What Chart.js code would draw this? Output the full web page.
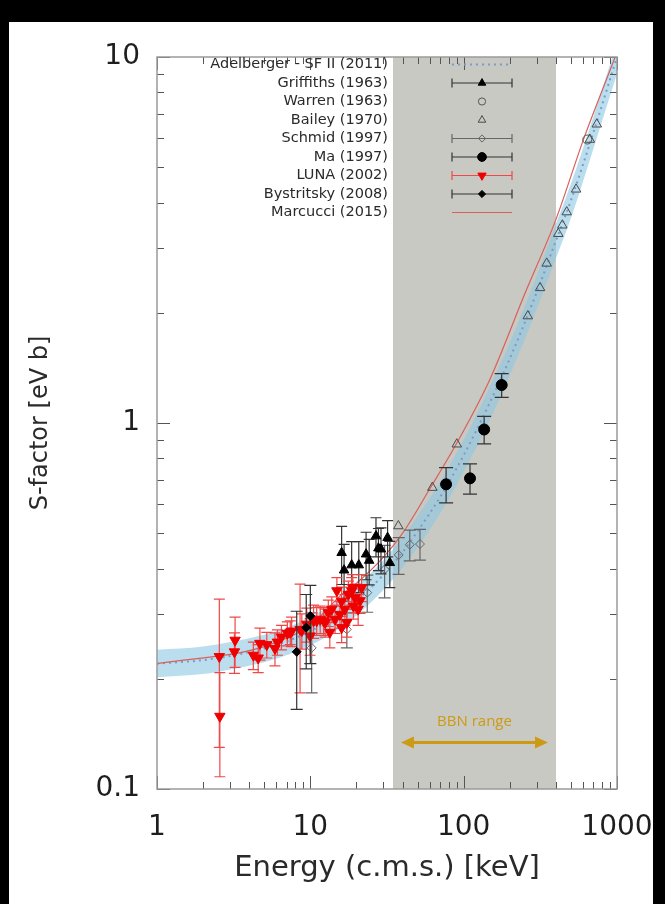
<!DOCTYPE html>
<html>
<head>
<meta charset="utf-8">
<script src="https://cdn.jsdelivr.net/npm/chart.js@4.4.1/dist/chart.umd.min.js"></script>
<style>
  html, body { margin: 0; padding: 0; background: #000; }
  canvas { display: block; }
</style>
</head>
<body>
<canvas id="sfactor" width="665" height="904"></canvas>
<script>
/* ------------------
  axis ticks
-------------------*/
var xTickVals = [1, 10, 100, 1000];
var xTickLabels = ['1', '10', '100', '1000'];
var yTickVals = [0.1, 1, 10];
var yTickLabels = ['0.1', '1', '10'];

// BBN energy window [keV] and where its arrow sits
var bbnRange = [34.6, 400];
var bbnArrow = [39, 355];
var bbnArrowS = 0.134;
var bbnTextS = 0.153;

/* ------------------
  Adelberger SF II (2011) fit + band
-------------------*/
var sfE   = [1, 2, 3, 5, 7, 10, 15, 20, 30, 40, 50, 70, 100, 150, 200, 300, 400, 500, 700, 1000];
var sfMid = [0.220, 0.225, 0.231, 0.242, 0.253, 0.270, 0.298, 0.327, 0.385, 0.444, 0.506, 0.626, 0.816, 1.15, 1.50, 2.28, 3.15, 4.05, 6.2, 10.0];
var sfHi  = [0.240, 0.245, 0.252, 0.264, 0.276, 0.295, 0.326, 0.358, 0.422, 0.488, 0.557, 0.690, 0.90, 1.27, 1.66, 2.53, 3.50, 4.50, 6.85, 11.0];
var sfLo  = [0.202, 0.206, 0.212, 0.222, 0.232, 0.247, 0.272, 0.298, 0.350, 0.402, 0.457, 0.564, 0.735, 1.03, 1.35, 2.05, 2.82, 3.62, 5.6, 9.0];

// Marcucci (2015)
var marE = [1, 5, 10, 16, 20, 30, 40, 60, 90, 150, 250, 400, 600, 800, 1000];
var marS = [0.22, 0.245, 0.28, 0.34, 0.365, 0.43, 0.50, 0.66, 0.88, 1.33, 2.25, 3.6, 5.9, 8.1, 10.3];

/* ------------------
  measurements
-------------------*/
var griE   = [16.0, 16.6, 18.6, 20.7, 23.1, 24.2, 26.8, 27.8, 28.9, 31.9, 33.0];
var griS   = [0.442, 0.396, 0.409, 0.409, 0.438, 0.421, 0.491, 0.455, 0.452, 0.486, 0.415];
var griErr = [0.08, 0.07, 0.065, 0.065, 0.065, 0.06, 0.06, 0.06, 0.065, 0.055, 0.06];

var warE = [640];
var warS = [5.95];

var baiE = [37.5, 62.5, 90.2, 262, 315, 348, 414, 440, 470, 541, 665, 738];
var baiS = [0.523, 0.666, 0.875, 1.96, 2.34, 2.73, 3.29, 3.47, 3.77, 4.35, 5.95, 6.55];

var schE   = [10.2, 17.3, 23.5, 30.5, 37.7, 44.5, 51.9];
var schS   = [0.243, 0.273, 0.344, 0.398, 0.436, 0.465, 0.467];
var schErr = [0.06, 0.03, 0.04, 0.065, 0.05, 0.045, 0.045];

var maE   = [76.8, 110, 136, 177];
var maS   = [0.68, 0.706, 0.96, 1.27];
var maErr = [0.075, 0.067, 0.083, 0.095];

var lunaE   = [2.55, 2.57, 3.20, 3.23, 4.25, 4.57, 4.69, 5.20, 5.88, 6.10, 6.48, 7.08, 7.40, 7.55, 8.57, 8.80, 9.47, 9.96,
               10.5, 11.0, 11.6, 12.2, 12.5, 13.1, 13.4, 13.8, 14.5, 14.9, 15.6, 16.0, 16.0, 16.8, 17.3, 17.7, 18.6, 18.9,
               19.1, 19.6, 20.5, 21.1, 21.6];
var lunaS   = [0.230, 0.158, 0.237, 0.255, 0.232, 0.228, 0.250, 0.248, 0.242, 0.252, 0.260, 0.266, 0.268, 0.270, 0.273, 0.271, 0.282, 0.262,
               0.288, 0.288, 0.291, 0.288, 0.285, 0.303, 0.268, 0.310, 0.291, 0.348, 0.300, 0.326, 0.276, 0.310, 0.285, 0.340, 0.348, 0.355,
               0.316, 0.333, 0.310, 0.327, 0.355];
var lunaErr = [0.10, 0.05, 0.03, 0.04, 0.02, 0.02, 0.025, 0.02, 0.025, 0.02, 0.02, 0.02, 0.02, 0.025, 0.09, 0.03, 0.03, 0.03,
               0.03, 0.025, 0.025, 0.025, 0.025, 0.025, 0.025, 0.025, 0.025, 0.03, 0.025, 0.03, 0.025, 0.03, 0.025, 0.03, 0.03, 0.03,
               0.025, 0.03, 0.03, 0.025, 0.03];

var bysE  = [8.15, 9.4, 10.0];
var bysS  = [0.237, 0.276, 0.297];
var bysLo = [0.165, 0.213, 0.22];
var bysHi = [0.306, 0.34, 0.36];

/************************************************************
    helpers
*************************************************************/
function pts(xs, ys) {
  return xs.map(function (x, i) { return { x: x, y: ys[i] }; });
}
function plus(ys, es) { return ys.map(function (y, i) { return y + es[i]; }); }
function minus(ys, es) { return ys.map(function (y, i) { return y - es[i]; }); }

var FONT = "'DejaVu Sans', Verdana, sans-serif";
Chart.defaults.font.family = FONT;
Chart.defaults.color = '#1e1e1e';

/************************************************************
    plugins
*************************************************************/
// black frame with white sheet
var sheet = {
  id: 'sheet',
  beforeDraw: function (chart) {
    var ctx = chart.ctx;
    ctx.save();
    ctx.fillStyle = '#000';
    ctx.fillRect(0, 0, chart.width, chart.height);
    ctx.fillStyle = '#fff';
    ctx.fillRect(9, 22, 644, chart.height - 22);
    ctx.restore();
  }
};

// grey BBN window, label and double arrow
var bbnBand = {
  id: 'bbnBand',
  beforeDatasetsDraw: function (chart) {
    var ctx = chart.ctx, a = chart.chartArea, x = chart.scales.x, y = chart.scales.y;
    var x0 = x.getPixelForValue(bbnRange[0]), x1 = x.getPixelForValue(bbnRange[1]);
    ctx.save();
    ctx.fillStyle = '#c9c9c4';
    ctx.fillRect(x0, a.top, x1 - x0, a.bottom - a.top);

    var ax0 = x.getPixelForValue(bbnArrow[0]), ax1 = x.getPixelForValue(bbnArrow[1]);
    var ay = y.getPixelForValue(bbnArrowS);
    ctx.strokeStyle = '#cc9a14';
    ctx.fillStyle = '#cc9a14';
    ctx.lineWidth = 3;
    ctx.beginPath();
    ctx.moveTo(ax0 + 10, ay); ctx.lineTo(ax1 - 10, ay);
    ctx.stroke();
    ctx.beginPath();
    ctx.moveTo(ax0, ay); ctx.lineTo(ax0 + 13, ay - 6); ctx.lineTo(ax0 + 13, ay + 6); ctx.closePath();
    ctx.moveTo(ax1, ay); ctx.lineTo(ax1 - 13, ay - 6); ctx.lineTo(ax1 - 13, ay + 6); ctx.closePath();
    ctx.fill();

    ctx.font = "15px 'Open Sans', sans-serif";
    ctx.textAlign = 'center';
    ctx.textBaseline = 'middle';
    ctx.fillText('BBN range', (ax0 + ax1) / 2, y.getPixelForValue(bbnTextS));
    ctx.restore();
  }
};

// vertical error bars, drawn under each dataset's markers
var errorBars = {
  id: 'errorBars',
  beforeDatasetDraw: function (chart, args) {
    var ds = chart.data.datasets[args.index];
    if (!ds.errLo) return;
    var ctx = chart.ctx, a = chart.chartArea, x = chart.scales.x, y = chart.scales.y;
    ctx.save();
    ctx.beginPath();
    ctx.rect(a.left, a.top, a.right - a.left, a.bottom - a.top);
    ctx.clip();
    ctx.strokeStyle = ds.errColor;
    ctx.lineWidth = 1.2;
    ds.data.forEach(function (p, i) {
      var px = x.getPixelForValue(p.x);
      var lo = y.getPixelForValue(ds.errLo[i]);
      var hi = y.getPixelForValue(ds.errHi[i]);
      var c = ds.capW / 2;
      ctx.beginPath();
      ctx.moveTo(px, lo); ctx.lineTo(px, hi);
      ctx.moveTo(px - c, lo); ctx.lineTo(px + c, lo);
      ctx.moveTo(px - c, hi); ctx.lineTo(px + c, hi);
      ctx.stroke();
    });
    ctx.restore();
  }
};

// frame plus inward ticks on all four sides
var frame = {
  id: 'frame',
  afterDatasetsDraw: function (chart) {
    var ctx = chart.ctx, a = chart.chartArea, x = chart.scales.x, y = chart.scales.y;
    ctx.save();
    ctx.strokeStyle = '#555';
    ctx.lineWidth = 1;
    ctx.beginPath();
    for (var d = 1; d <= 1000; d *= 10) {
      for (var m = 1; m <= 9; m++) {
        var v = d * m;
        if (v > 1000) break;
        var px = Math.round(x.getPixelForValue(v)) + 0.5;
        var len = m === 1 ? 13 : 7;
        ctx.moveTo(px, a.bottom); ctx.lineTo(px, a.bottom - len);
        ctx.moveTo(px, a.top); ctx.lineTo(px, a.top + len);
      }
    }
    for (var e = 0.1; e <= 10; e *= 10) {
      for (var k = 1; k <= 9; k++) {
        var w = e * k;
        if (w > 10.001) break;
        var py = Math.round(y.getPixelForValue(w)) + 0.5;
        var l2 = k === 1 ? 13 : 7;
        ctx.moveTo(a.left, py); ctx.lineTo(a.left + l2, py);
        ctx.moveTo(a.right, py); ctx.lineTo(a.right - l2, py);
      }
    }
    ctx.stroke();
    ctx.strokeStyle = '#9a9a9a';
    ctx.lineWidth = 1.5;
    ctx.strokeRect(a.left, a.top, a.right - a.left, a.bottom - a.top);
    ctx.restore();
  }
};

// key in the upper left, text right aligned, symbol to the right
var legendRows = [
  { label: 'Adelberger - SF II (2011)', ds: 2, kind: 'dots' },
  { label: 'Griffiths (1963)', ds: 7, kind: 'bar' },
  { label: 'Warren (1963)', ds: 5, kind: 'mark' },
  { label: 'Bailey (1970)', ds: 4, kind: 'mark' },
  { label: 'Schmid (1997)', ds: 6, kind: 'bar' },
  { label: 'Ma (1997)', ds: 10, kind: 'bar' },
  { label: 'LUNA (2002)', ds: 8, kind: 'bar' },
  { label: 'Bystritsky (2008)', ds: 9, kind: 'bar' },
  { label: 'Marcucci (2015)', ds: 3, kind: 'line' }
];
var keyBox = {
  id: 'keyBox',
  afterDraw: function (chart) {
    var ctx = chart.ctx, a = chart.chartArea;
    var textX = a.left + 231, symX = a.left + 325, half = 30;
    ctx.save();
    ctx.font = '14.5px ' + FONT;
    ctx.textAlign = 'right';
    ctx.textBaseline = 'middle';
    legendRows.forEach(function (r, i) {
      var ry = a.top + 7.5 + i * 18.5;
      var ds = chart.data.datasets[r.ds];
      ctx.fillStyle = '#2a2a2a';
      ctx.fillText(r.label, textX, ry);
      ctx.save();
      if (r.kind === 'dots' || r.kind === 'line') {
        ctx.strokeStyle = ds.borderColor;
        ctx.lineWidth = ds.borderWidth;
        ctx.setLineDash(ds.borderDash || []);
        ctx.beginPath();
        ctx.moveTo(symX - half, ry); ctx.lineTo(symX + half, ry);
        ctx.stroke();
      } else {
        if (r.kind === 'bar') {
          ctx.strokeStyle = ds.errColor;
          ctx.lineWidth = 1.2;
          ctx.beginPath();
          ctx.moveTo(symX - half, ry); ctx.lineTo(symX + half, ry);
          ctx.moveTo(symX - half, ry - 4.5); ctx.lineTo(symX - half, ry + 4.5);
          ctx.moveTo(symX + half, ry - 4.5); ctx.lineTo(symX + half, ry + 4.5);
          ctx.stroke();
        }
        ctx.fillStyle = ds.backgroundColor;
        ctx.strokeStyle = ds.borderColor;
        ctx.lineWidth = ds.borderWidth || 1;
        Chart.helpers.drawPoint(ctx, {
          pointStyle: ds.pointStyle,
          rotation: ds.rotation || 0,
          radius: ds.pointRadius * 0.8,
          borderWidth: ds.borderWidth || 1
        }, symX, ry);
      }
      ctx.restore();
    });
    ctx.restore();
  }
};

/************************************************************
    chart
*************************************************************/
var bandBlue = 'rgba(140, 200, 226, 0.6)';

var chart = new Chart(document.getElementById('sfactor'), {
  type: 'scatter',
  data: {
    datasets: [
      { // 0 band top
        order: 20,
        data: pts(sfE, sfHi), showLine: true, pointRadius: 0, borderWidth: 0,
        borderColor: 'rgba(0,0,0,0)', fill: false, cubicInterpolationMode: 'monotone'
      },
      { // 1 band bottom
        order: 19,
        data: pts(sfE, sfLo), showLine: true, pointRadius: 0, borderWidth: 0,
        borderColor: 'rgba(0,0,0,0)', backgroundColor: bandBlue, fill: '-1', cubicInterpolationMode: 'monotone'
      },
      { // 2 Adelberger
        order: 18, label: 'Adelberger - SF II (2011)',
        data: pts(sfE, sfMid), showLine: true, pointRadius: 0, borderWidth: 2,
        borderColor: '#7a9cc8', borderDash: [2, 4], fill: false, cubicInterpolationMode: 'monotone'
      },
      { // 3 Marcucci
        order: 17, label: 'Marcucci (2015)',
        data: pts(marE, marS), showLine: true, pointRadius: 0, borderWidth: 1.2,
        borderColor: '#d9605a', fill: false, cubicInterpolationMode: 'monotone'
      },
      { // 4 Bailey
        order: 7, label: 'Bailey (1970)',
        data: pts(baiE, baiS), pointStyle: 'triangle', pointRadius: 5.5,
        backgroundColor: 'rgba(0,0,0,0)', borderColor: '#4a4a4a', borderWidth: 1
      },
      { // 5 Warren
        order: 6, label: 'Warren (1963)',
        data: pts(warE, warS), pointStyle: 'circle', pointRadius: 4.5,
        backgroundColor: 'rgba(0,0,0,0)', borderColor: '#555', borderWidth: 1
      },
      { // 6 Schmid
        order: 5, label: 'Schmid (1997)',
        data: pts(schE, schS), pointStyle: 'rectRot', pointRadius: 4.5,
        backgroundColor: 'rgba(0,0,0,0)', borderColor: '#666', borderWidth: 1,
        errLo: minus(schS, schErr), errHi: plus(schS, schErr), errColor: '#666', capW: 12
      },
      { // 7 Griffiths
        order: 4, label: 'Griffiths (1963)',
        data: pts(griE, griS), pointStyle: 'triangle', pointRadius: 5.5,
        backgroundColor: '#000', borderColor: '#000', borderWidth: 1,
        errLo: minus(griS, griErr), errHi: plus(griS, griErr), errColor: '#333', capW: 11
      },
      { // 8 LUNA
        order: 3, label: 'LUNA (2002)',
        data: pts(lunaE, lunaS), pointStyle: 'triangle', rotation: 180, pointRadius: 6,
        backgroundColor: '#ee0000', borderColor: '#ee0000', borderWidth: 1,
        errLo: minus(lunaS, lunaErr), errHi: plus(lunaS, lunaErr), errColor: '#f04848', capW: 11
      },
      { // 9 Bystritsky
        order: 2, label: 'Bystritsky (2008)',
        data: pts(bysE, bysS), pointStyle: 'rectRot', pointRadius: 4.5,
        backgroundColor: '#000', borderColor: '#000', borderWidth: 1,
        errLo: bysLo, errHi: bysHi, errColor: '#333', capW: 12
      },
      { // 10 Ma
        order: 1, label: 'Ma (1997)',
        data: pts(maE, maS), pointStyle: 'circle', pointRadius: 5.5,
        backgroundColor: '#000', borderColor: '#000', borderWidth: 1,
        errLo: minus(maS, maErr), errHi: plus(maS, maErr), errColor: '#333', capW: 14
      }
    ]
  },
  options: {
    responsive: false,
    animation: false,
    layout: { padding: { top: 57, right: 48, bottom: 0, left: 0 } },
    plugins: { legend: { display: false }, tooltip: { enabled: false } },
    scales: {
      x: {
        type: 'logarithmic', min: 1, max: 1000,
        grid: { display: false, drawTicks: false }, border: { display: false },
        afterBuildTicks: function (s) { s.ticks = xTickVals.map(function (v) { return { value: v }; }); },
        afterFit: function (s) { s.height = 115; s.paddingLeft = 0; s.paddingRight = 0; },
        ticks: {
          autoSkip: false, maxRotation: 0, padding: 22, color: '#1e1e1e',
          font: { size: 28 },
          callback: function (v) { var i = xTickVals.indexOf(v); return i < 0 ? '' : xTickLabels[i]; }
        },
        title: {
          display: true, text: 'Energy (c.m.s.) [keV]', color: '#2a2a2a',
          font: { size: 29 }, padding: { top: 0, bottom: 18 }
        }
      },
      y: {
        type: 'logarithmic', min: 0.1, max: 10,
        grid: { display: false, drawTicks: false }, border: { display: false },
        afterBuildTicks: function (s) { s.ticks = yTickVals.map(function (v) { return { value: v }; }); },
        afterFit: function (s) { s.width = 157; s.paddingTop = 0; s.paddingBottom = 0; },
        ticks: {
          autoSkip: false, padding: 17, color: '#1e1e1e',
          font: { size: 28 },
          callback: function (v) { var i = yTickVals.indexOf(v); return i < 0 ? '' : yTickLabels[i]; }
        },
        title: {
          display: true, text: 'S-factor [eV b]', color: '#2a2a2a',
          font: { size: 24 }, padding: { top: 26, bottom: 0 }
        }
      }
    }
  },
  plugins: [sheet, bbnBand, errorBars, frame, keyBox]
});
</script>
</body>
</html>
